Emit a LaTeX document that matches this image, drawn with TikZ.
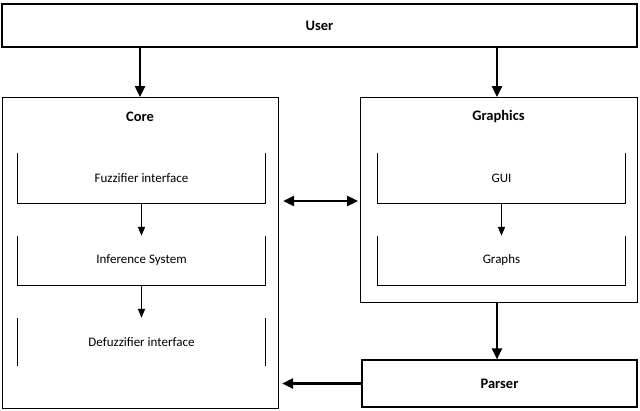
\documentclass[tikz,border=0pt]{standalone}
\usepackage{fontspec}
\setmainfont{Carlito}
\usetikzlibrary{arrows.meta}

\begin{document}
\begin{tikzpicture}[x=1pt,y=-1pt,
	box/.style={draw, line width=1.1pt, inner sep=0pt, font=\bfseries\fontsize{14.5}{17}\selectfont},
	part/.style={inner sep=0pt, minimum width=247pt, font=\fontsize{13}{15}\selectfont},
	big/.style={-{Triangle[length=11pt,width=10pt]}, line width=2.4pt},
	small/.style={-{Triangle[length=9pt,width=7pt]}, line width=1.5pt}
	]
\useasboundingbox (0,0) rectangle (640,410);
\node[box, minimum width=635pt, minimum height=43pt] (user) at (319.5,25.5) {User};
\node[box, minimum width=276pt, minimum height=311pt, anchor=north west] (core) at (2,97) {};
\node[box, minimum width=277pt, minimum height=205pt, anchor=north west] (gfx) at (360,97) {};
\node[box, minimum width=275pt, minimum height=47pt] (parser) at (499.5,383.5) {Parser};
\node[box, draw=none] at (140,117) {Core};
\node[box, draw=none] at (498.5,117) {Graphics};

\node[part, minimum height=50pt] (fuzz) at (141.5,178) {Fuzzifier interface};
\node[part, minimum height=49pt] (inf) at (141.5,260.5) {Inference System};
\node[part, minimum height=48pt] (defuzz) at (141.5,342) {Defuzzifier interface};
\node[part, minimum height=50pt] (gui) at (501.5,178) {GUI};
\node[part, minimum height=49pt] (graphs) at (501.5,260.5) {Graphs};

\foreach \n in {fuzz,inf,gui,graphs}
	\draw[line width=0.7pt] (\n.north west) -- (\n.south west) -- (\n.south east) -- (\n.north east);
\draw[line width=0.7pt] (defuzz.north west) -- (defuzz.south west)
	(defuzz.north east) -- (defuzz.south east);

\draw[big] (user.south -| 140,0) -- (core.north -| 140,0);
\draw[big] (user.south -| 497,0) -- (gfx.north -| 497,0);
\draw[big] (gfx.south -| 497,0) -- (parser.north -| 497,0);
\draw[big] (parser.west) -- ([xshift=3pt]core.east |- parser.west);
\draw[big, {Triangle[length=11pt,width=10pt]}-{Triangle[length=11pt,width=10pt]}]
	([xshift=4pt]core.east |- 0,201) -- ([xshift=-2pt]gfx.west |- 0,201);
\draw[small] (fuzz.south) -- (inf.north);
\draw[small] (inf.south) -- (defuzz.north);
\draw[small] (gui.south) -- (graphs.north);
\end{tikzpicture}
\end{document}
